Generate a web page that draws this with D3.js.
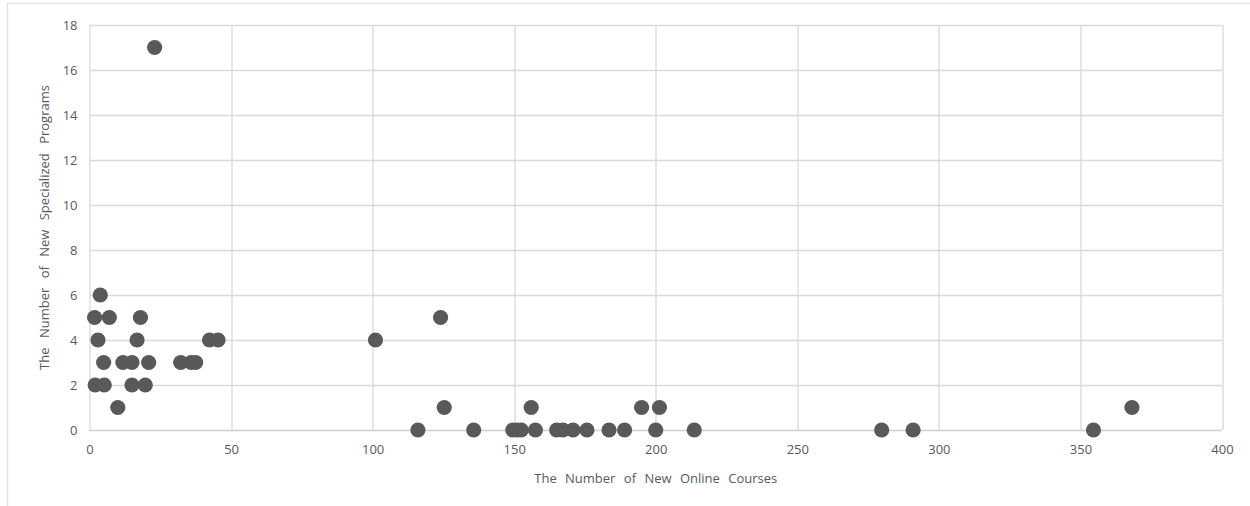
<!DOCTYPE html>
<html>
<head>
<meta charset="utf-8">
<script src="https://cdn.jsdelivr.net/npm/d3@7"></script>
<style>
  body { margin: 0; background: #fff; }
  svg { display: block; }
</style>
</head>
<body>
<div id="chart"></div>
<script>
// New online courses (x) vs new specialized programs (y)
const onlineCourses = [
    23, 3.8, 1.8, 7, 18, 3, 16.8, 42.4, 45.4,
    5, 11.8, 15, 20.9, 32.2, 35.9, 37.5,
    2, 5.2, 15, 19.7, 10,
    101, 124, 125.3, 156, 195, 201.3, 368.2,
    116, 135.7, 149.5, 151, 152.5, 157.5, 165, 167.2, 170.8, 175.7,
    183.5, 189, 200, 213.6, 279.8, 290.9, 354.6
];
const specializedPrograms = [
    17, 6, 5, 5, 5, 4, 4, 4, 4,
    3, 3, 3, 3, 3, 3, 3,
    2, 2, 2, 2, 1,
    4, 5, 1, 1, 1, 1, 1,
    0, 0, 0, 0, 0, 0, 0, 0, 0, 0,
    0, 0, 0, 0, 0, 0, 0
];
const xTicks = [0, 50, 100, 150, 200, 250, 300, 350, 400];
const yTicks = [0, 2, 4, 6, 8, 10, 12, 14, 16, 18];

const xTitle = "The Number of New Online Courses";
const yTitle = "The Number of New Specialized Programs";

const W = 1250, H = 506;
const margin = {top: 25, right: 28, bottom: 76, left: 89.5};
const width = W - margin.left - margin.right;
const height = H - margin.top - margin.bottom;

const svg = d3.select("#chart").append("svg")
    .attr("width", W)
    .attr("height", H);

// chart frame
svg.append("rect")
    .attr("x", 7.5).attr("y", 3.5)
    .attr("width", W + 10).attr("height", H + 10)
    .attr("fill", "none")
    .attr("stroke", "#e3e3e3")
    .attr("stroke-width", 1.5);

const g = svg.append("g")
    .attr("transform", `translate(${margin.left},${margin.top})`);

const x = d3.scaleLinear().domain([0, 400]).range([0, width]);
const y = d3.scaleLinear().domain([0, 18]).range([height, 0]);

// gridlines
g.append("g")
    .selectAll("line.h")
    .data(yTicks)
    .join("line")
    .attr("x1", 0).attr("x2", width)
    .attr("y1", d => Math.round(y(d)) + 0.5).attr("y2", d => Math.round(y(d)) + 0.5)
    .attr("stroke", d => d === 0 ? "#cfcfcf" : "#d9d9d9")
    .attr("stroke-width", 1.3);

g.append("g")
    .selectAll("line.v")
    .data(xTicks)
    .join("line")
    .attr("x1", d => Math.round(x(d)) + 0.5).attr("x2", d => Math.round(x(d)) + 0.5)
    .attr("y1", 0).attr("y2", height)
    .attr("stroke", "#d9d9d9")
    .attr("stroke-width", 1.3);

// axes (labels only)
const xAxis = g.append("g")
    .attr("transform", `translate(0,${height})`)
    .call(d3.axisBottom(x).tickValues(xTicks).tickSize(0).tickPadding(15));
const yAxis = g.append("g")
    .call(d3.axisLeft(y).tickValues(yTicks).tickSize(0).tickPadding(12));

[xAxis, yAxis].forEach(ax => {
    ax.select(".domain").remove();
    ax.selectAll("text")
        .style("font-family", "'Open Sans', sans-serif")
        .style("font-size", "13px")
        .style("fill", "#595959");
});

// points
const points = onlineCourses.map((v, i) => ({x: v, y: specializedPrograms[i]}));
g.selectAll("circle.pt")
    .data(points)
    .join("circle")
    .attr("class", "pt")
    .attr("cx", d => x(d.x))
    .attr("cy", d => y(d.y))
    .attr("r", 7.6)
    .attr("fill", "#595959");

// axis titles
svg.append("text")
    .attr("x", margin.left + width / 2)
    .attr("y", 483)
    .attr("text-anchor", "middle")
    .style("font-family", "'Open Sans', sans-serif")
    .style("font-size", "13px")
    .style("word-spacing", "5px")
    .style("fill", "#595959")
    .text(xTitle);

svg.append("text")
    .attr("transform", `translate(49,${margin.top + height / 2}) rotate(-90)`)
    .attr("text-anchor", "middle")
    .style("font-family", "'Open Sans', sans-serif")
    .style("font-size", "13px")
    .style("word-spacing", "6px")
    .style("fill", "#595959")
    .text(yTitle);
</script>
</body>
</html>
